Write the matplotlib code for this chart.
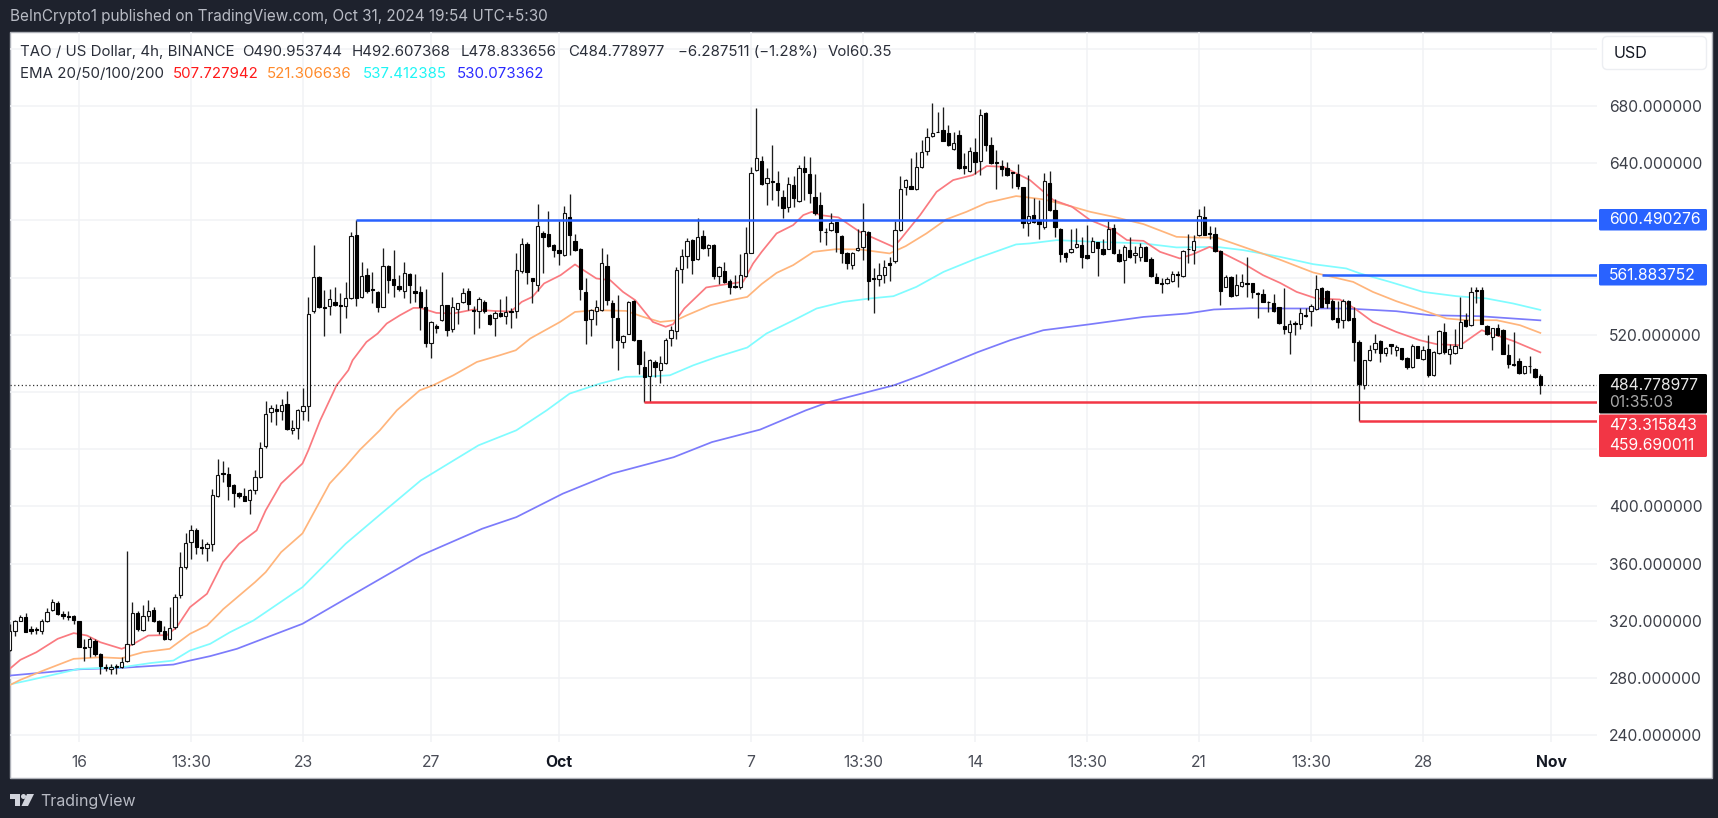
import numpy as np
import matplotlib
matplotlib.use("Agg")
import matplotlib.pyplot as plt
from matplotlib.patches import Rectangle, FancyBboxPatch, Polygon, Circle

plt.rcParams['font.family'] = ['Inter', 'DejaVu Sans']

# ---- candle data (4h bars, bar 0 = 16 Sep) ----
first_bar = -13
opens = [299.7,312.8,320.2,323.0,314.4,314.1,312.8,319.7,327.7,332.3,
 325.1,323.5,323.2,319.7,302.0,302.0,306.2,296.9,288.0,286.6,
 288.5,287.5,291.7,303.9,325.8,313.7,323.7,327.7,320.2,313.2,
 307.1,315.5,337.9,357.5,374.8,383.2,371.5,371.1,373.9,407.0,
 423.6,422.4,414.7,409.3,407.5,404.2,411.2,420.5,442.0,465.8,
 468.4,466.7,471.9,453.2,454.6,466.7,470.0,536.5,560.5,539.5,
 540.0,543.0,540.5,540.0,545.4,589.5,546.5,561.5,551.9,550.0,
 539.5,568.0,558.9,554.2,550.7,562.4,550.7,549.6,539.1,514.3,
 526.2,530.2,540.5,524.1,537.7,543.0,550.7,537.2,536.7,543.0,
 533.5,531.6,535.3,533.0,536.7,536.3,564.3,583.2,559.6,554.5,
 590.9,590.4,582.7,579.2,575.9,602.5,585.7,579.9,550.0,530.7,
 536.7,537.2,568.2,541.9,531.4,515.0,520.9,543.5,516.2,497.5,
 491.0,501.0,495.7,500.3,517.6,522.7,565.7,575.0,586.2,572.7,
 589.0,580.6,582.5,561.0,564.7,557.7,554.0,553.1,561.0,577.3,
 635.2,641.5,626.1,627.3,625.9,616.1,609.5,624.7,613.5,636.6,
 632.4,616.5,610.7,592.0,593.2,598.6,589.2,577.3,568.5,579.2,
 581.5,591.8,559.6,559.1,561.7,569.9,571.3,593.2,623.1,624.0,
 621.7,637.1,648.7,659.0,662.0,663.2,660.9,650.1,659.7,638.0,
 634.7,648.0,641.7,675.3,652.9,640.6,638.0,636.8,633.8,632.4,
 623.1,598.3,603.7,599.3,595.1,626.3,607.2,594.1,577.3,578.0,
 581.1,582.7,575.5,578.0,584.8,580.1,580.1,594.6,576.4,572.2,
 579.2,575.5,574.1,581.5,572.7,560.1,556.3,555.9,557.3,562.4,
 561.0,580.1,579.2,589.5,602.5,590.9,590.4,578.7,553.5,560.5,
 547.5,554.0,555.9,555.9,548.9,548.4,543.0,542.3,539.1,526.5,
 522.0,528.3,527.4,533.5,536.7,537.7,552.4,550.5,543.7,531.4,
 530.2,543.5,531.4,515.0,484.7,502.2,510.4,515.7,507.3,513.6,
 509.7,510.6,504.1,497.5,512.0,503.4,510.4,491.7,507.3,522.0,
 506.4,507.3,511.1,530.2,526.7,551.2,551.2,526.0,518.5,525.1,
 523.7,505.7,499.4,501.7,493.3,498.0,496.1,491.0]
highs = [317.9,320.7,324.4,325.3,316.7,316.0,321.4,329.1,335.4,333.7,
 326.7,326.7,324.4,320.2,307.4,308.5,307.1,297.3,289.9,289.9,
 289.9,294.5,368.7,333.0,327.2,330.7,334.2,329.5,320.7,316.7,
 329.5,338.4,368.0,381.3,386.7,385.1,377.4,375.0,412.4,433.4,
 431.7,427.5,415.9,410.0,413.1,412.4,425.2,445.0,473.5,470.7,
 471.9,475.4,480.7,460.2,468.4,483.1,546.5,582.7,561.0,551.2,
 551.7,553.1,549.3,557.0,592.0,600.2,571.0,566.4,564.0,550.7,
 580.8,568.7,579.2,561.7,570.6,562.9,562.4,554.0,551.7,529.7,
 527.4,564.0,540.7,546.5,542.3,552.4,552.4,540.0,546.1,544.2,
 534.2,536.5,544.7,547.0,538.4,576.9,587.4,585.0,559.6,611.4,
 592.7,606.5,583.4,599.7,610.0,618.4,590.2,580.4,559.4,537.7,
 544.2,580.4,576.4,544.2,547.7,519.7,543.5,544.2,516.7,508.7,
 503.4,502.7,505.0,518.1,526.5,567.1,579.7,587.4,586.7,601.4,
 593.2,583.4,583.2,568.0,570.8,558.7,561.7,576.4,595.1,637.5,
 678.6,645.0,636.4,652.7,634.7,621.2,630.5,631.0,638.7,645.0,
 644.1,632.4,620.0,594.4,604.9,599.0,589.7,578.0,578.0,593.7,
 612.3,592.7,566.8,569.9,572.2,574.5,599.7,631.0,628.7,643.4,
 648.0,656.2,664.4,682.3,676.0,679.1,666.7,662.0,663.2,646.9,
 651.5,657.4,677.7,675.8,658.5,649.2,642.2,641.0,634.0,639.4,
 623.5,631.7,615.4,614.2,633.3,634.5,614.7,594.4,578.0,593.7,
 594.6,588.1,596.5,588.5,585.0,586.7,599.3,597.4,580.1,582.5,
 588.5,582.0,583.9,582.0,574.1,562.9,559.4,560.1,564.7,564.7,
 579.2,590.4,589.5,607.7,610.0,596.0,595.1,579.2,561.5,561.0,
 562.4,562.4,574.1,556.3,550.0,551.7,543.7,548.4,539.5,552.6,
 530.2,529.7,538.4,538.8,541.4,561.7,553.5,551.2,544.7,543.7,
 544.7,544.2,539.5,516.2,502.7,512.7,520.4,516.2,511.5,513.9,
 512.7,511.1,504.5,513.4,512.5,512.5,519.7,508.7,523.7,528.3,
 513.4,524.4,546.1,535.2,553.5,553.5,553.5,526.7,525.1,527.9,
 524.4,513.9,522.0,504.1,498.5,505.0,496.8,492.6]
lows = [299.0,309.7,320.2,312.5,310.9,310.9,310.9,319.0,327.2,324.4,
 321.2,320.7,317.9,301.5,292.2,294.5,295.7,282.9,284.7,282.9,
 282.9,287.1,291.0,303.4,313.2,312.8,320.2,319.0,310.9,306.7,
 306.7,314.4,336.1,356.4,363.4,366.4,366.9,361.5,368.5,406.5,
 417.0,404.7,399.5,406.1,403.7,394.4,408.4,420.1,441.1,459.0,
 456.7,460.2,453.7,450.9,447.4,460.2,459.7,535.3,538.4,519.0,
 533.7,540.0,521.3,531.8,544.7,540.0,545.4,548.9,541.9,536.0,
 539.1,548.9,546.5,550.7,545.4,542.3,543.0,523.2,511.5,503.6,
 521.3,529.7,519.0,521.8,527.4,541.9,537.2,520.9,525.1,535.3,
 526.7,519.0,532.5,527.4,525.1,531.4,563.3,555.4,541.9,550.7,
 562.9,581.5,574.1,568.7,575.4,575.7,578.7,544.2,513.9,519.0,
 526.7,536.7,540.5,511.1,495.7,511.1,520.4,515.7,492.9,473.1,
 473.1,490.6,486.3,499.9,512.5,517.1,555.9,566.4,562.2,572.2,
 579.7,575.0,558.7,555.4,556.3,548.2,552.4,551.7,560.5,576.9,
 634.7,624.7,610.7,614.2,610.0,601.4,605.6,609.1,613.0,614.2,
 611.9,603.7,584.6,582.7,592.7,578.0,569.9,565.9,565.7,578.7,
 572.2,544.2,535.3,554.0,555.9,557.5,570.3,592.7,617.7,621.7,
 621.2,636.6,645.7,658.5,661.6,655.3,652.2,649.2,636.1,632.2,
 634.0,632.4,631.7,648.7,639.4,621.9,631.0,631.0,622.4,621.7,
 594.4,589.0,597.9,587.1,593.7,606.7,588.5,571.0,571.0,577.3,
 580.4,566.4,573.1,577.6,561.0,575.7,579.7,576.4,571.0,555.9,
 573.4,569.9,571.7,571.3,560.5,555.9,548.9,555.4,556.8,553.5,
 560.1,569.9,569.4,589.0,589.5,586.7,577.8,540.7,553.1,546.5,
 547.0,553.5,546.5,545.4,531.4,542.6,536.0,535.8,527.4,520.9,
 506.4,519.7,524.4,532.1,526.0,537.2,539.1,538.4,530.2,525.1,
 525.1,529.7,501.7,459.7,482.4,501.7,507.3,501.0,505.0,506.9,
 505.0,502.7,496.4,497.1,503.6,502.7,490.6,491.2,506.9,506.9,
 499.9,506.4,510.6,525.5,526.0,541.9,527.4,519.9,509.7,519.2,
 506.4,497.1,498.5,492.9,492.9,493.3,490.1,478.8]
closes = [312.8,320.2,323.0,312.5,313.2,313.7,319.7,326.3,332.8,324.9,
 323.2,323.0,320.7,301.5,301.3,307.1,296.9,288.5,287.1,288.0,
 288.0,291.0,303.9,325.3,314.1,323.5,327.2,320.2,313.2,307.4,
 315.1,336.5,357.5,374.3,383.2,371.5,371.1,373.4,407.9,421.7,
 422.9,414.0,409.3,407.5,403.7,411.7,420.5,440.6,464.9,468.8,
 466.7,471.2,454.1,454.6,467.2,470.0,534.2,560.5,539.1,538.8,
 544.7,540.7,540.0,545.8,589.0,545.8,561.0,550.3,551.2,539.1,
 568.0,558.2,554.9,551.7,562.9,554.9,548.9,539.1,514.3,528.8,
 525.1,540.9,523.2,539.5,541.9,548.9,541.2,536.7,544.9,536.5,
 527.9,535.3,533.0,535.8,535.8,565.2,583.4,564.0,557.5,596.0,
 588.5,582.0,579.2,577.3,604.9,589.5,579.2,552.1,530.2,537.2,
 539.1,569.9,544.2,532.1,516.2,519.0,543.0,516.2,499.4,490.6,
 502.7,497.5,500.3,516.7,523.7,565.2,575.0,585.7,572.2,588.1,
 580.4,582.5,561.0,567.1,557.0,553.5,553.1,561.7,576.9,633.3,
 643.6,625.2,629.6,626.8,621.2,608.8,625.4,615.8,636.8,633.8,
 619.3,605.3,593.2,591.6,597.9,591.8,576.9,569.9,577.3,580.6,
 592.5,557.7,559.1,561.9,567.1,568.7,593.2,621.7,628.2,622.1,
 637.5,647.8,658.5,660.9,661.8,655.7,652.7,654.3,636.6,636.4,
 648.3,641.0,673.5,652.9,639.9,640.1,635.7,631.9,633.3,624.0,
 597.9,603.0,599.0,597.4,627.7,607.2,595.5,576.4,574.5,579.7,
 583.4,574.5,573.6,585.7,580.6,576.4,593.7,576.9,571.7,581.1,
 574.1,576.9,581.1,571.7,561.0,556.3,555.2,558.7,562.4,561.5,
 578.3,579.7,585.3,603.0,589.9,590.4,578.3,550.7,560.5,547.0,
 554.7,556.8,555.4,550.0,548.4,543.0,542.6,536.7,528.3,524.4,
 527.9,527.9,534.9,532.8,540.0,551.7,539.5,542.3,530.7,529.0,
 543.7,530.2,515.0,485.9,502.2,509.7,514.3,507.3,511.1,512.0,
 511.5,503.4,497.5,512.5,504.1,509.2,491.7,508.0,522.5,508.0,
 510.4,512.0,529.0,526.0,550.0,550.7,527.9,520.4,524.6,519.7,
 506.9,499.4,498.9,493.3,498.0,498.5,490.5,484.8]

# ---- EMA lines (bar number, price) ----
ema20_bars = [-13,-11,-8,-4,-1,1.5,4,8,10,13,16.5,18.3,20.8,24,27,30,33.3,35,37.9,41.9,43,45.2,48.3,50.5,51.3,53.9,56,57.7,60.2,62.7,64,67,70.2,74,77.8,81,83,85,87.2,90.3,93,94.6,97,99.6,102,104.3,107.6,110,111.4,113.5,117.6,121.4,124.5,126.4,128,130.8,133.9,135.8,137.4,139,142.4,146.4,152.7,153.9,157.7,160.8,163.9,167.6,170.2,173.3,178.3,182.7,186.2,189.6,193.4,196.5,199.6,202.7,206.4,208.9,212,215.2,218.3,222,225.2,228.3,232,236.4,239.2,242.6,247,251.4,254.6,259,263,268.9,274]
ema20 = [286.4,292.7,298.0,307.4,311.4,309.7,305.0,300.4,303.4,309.7,310.0,315.5,329.5,338.9,361.0,373.9,383.2,397.2,416.0,430.0,439.2,460.0,484.7,495.2,502.2,515.0,520.9,527.9,533.7,538.8,538.8,535.3,534.9,537.7,536.7,536.3,543.0,546.5,555.9,561.7,569.2,565.2,559.4,558.2,550.0,544.2,529.0,525.6,527.4,538.4,553.1,555.4,557.0,569.9,578.0,590.9,596.7,603.7,606.0,603.7,602.1,592.0,581.5,586.2,603.7,620.0,628.2,631.7,638.0,637.5,628.2,614.2,609.5,600.2,594.4,586.2,585.7,578.0,573.4,576.4,581.5,575.7,569.9,561.7,556.3,550.0,545.4,544.7,538.4,529.0,522.0,516.2,513.4,512.7,523.2,515.7,507.7]
ema50_bars = [-13,-11,-6.7,-1,4,8,12,17,20.8,24,26.5,27,33,35,37.9,41.9,47,50,52.7,56.4,59.6,63.9,66.4,70.2,74.6,78.9,81.9,84.6,90.2,93,97,102.6,105.8,109,112,114,118.4,122.2,125.3,128,130.8,133.9,137.7,142,146.4,152,155,158.9,162.6,166.4,170.2,175.7,177,180.8,185.2,189.6,194,199.6,205.8,209.6,213.3,218.3,225.2,231.4,238.9,242.6,247,252,256.4,260.2,265.8,270.2,274]
ema50 = [275.0,278.7,285.2,293.4,294.5,293.8,298.0,300.4,310.9,316.7,326.0,328.0,347.0,354.0,368.0,381.1,416.0,428.0,439.7,453.2,467.2,481.2,484.7,491.7,501.0,505.7,509.2,517.4,529.0,536.0,537.2,536.7,532.5,529.0,530.2,533.7,540.7,544.2,546.5,555.5,563.3,568.7,578.0,579.9,579.7,576.9,582.0,590.9,600.7,606.0,612.3,617.0,616.5,614.7,610.7,606.0,602.5,597.4,588.5,588.0,588.0,581.5,572.5,563.6,557.0,550.0,543.5,537.2,531.4,530.2,530.2,526.7,521.3]
ema100_bars = [-13,-9,0,8,13.3,17.7,20.8,24.6,28.3,32.7,35,41.9,50,57,64.1,74.9,82,87.7,92,97.7,102.6,107.6,110.8,115.2,119.6,125.3,128.9,134,138.3,143.3,148.3,152.7,157,162.1,168.3,175.7,178.3,183.3,190.8,199.6,205.8,213.3,218.3,225.2,231.4,237.6,240.2,245.8,252,258.3,263.9,268.9,274]
ema100 = [275.5,278.7,286.4,287.5,290.4,292.2,299.2,303.9,312.0,320.2,326.0,343.5,373.9,396.0,418.2,442.7,453.2,467.2,478.9,485.9,490.6,491.0,491.7,498.7,504.5,511.1,520.9,530.2,538.4,543.0,545.4,547.0,553.5,564.0,573.4,583.2,583.9,586.2,585.0,583.9,581.1,581.5,579.2,574.5,569.4,566.4,562.9,557.0,550.0,547.0,545.4,541.9,537.4]
ema200_bars = [-13,-6,0,8,17.7,20.8,24.6,29.6,35,41.9,50,64.1,75.6,82,90.7,100,111.5,118.7,127.7,136.3,140.6,152.8,157.9,168.6,174.6,180.8,189.6,199.6,207.8,212.8,219.7,225.2,237.6,247,253.3,262.6,274]
ema200 = [281.7,284.0,286.1,287.1,289.4,292.2,295.3,300.4,308.1,317.9,335.4,365.7,384.4,392.5,408.9,423.0,434.4,445.0,453.7,467.2,473.0,484.7,491.7,508.0,516.2,523.2,527.4,532.5,534.9,537.7,538.6,538.4,538.4,536.5,533.7,533.0,530.1]

# ---- horizontal levels ----
resistance_levels = [600.490276, 561.883752]
resistance_starts = [52, 233]
support_levels = [473.315843, 459.690011]
support_starts = [106, 240]
last_price = 484.778977

# ---- axis labels ----
time_ticks = [0, 21, 42, 66, 90, 126, 147, 168, 189, 210, 231, 252, 276]
time_labels = ['16', '13:30', '23', '27', 'Oct', '7', '13:30', '14', '13:30', '21', '13:30', '28', 'Nov']
bold_labels = ['Oct', 'Nov']
price_ticks = [240, 280, 320, 360, 400, 440, 480, 520, 560, 600, 640, 680, 720]
hidden_price_ticks = [440, 480, 560, 600, 720]

DARK = '#1e222d'
W, H = 1718, 818
fig = plt.figure(figsize=(W / 100, H / 100), dpi=100, facecolor=DARK)

# overlay in pixel coordinates for the surrounding chrome
bg = fig.add_axes([0, 0, 1, 1], zorder=0)
bg.set_xlim(0, W); bg.set_ylim(H, 0); bg.axis('off')
bg.add_patch(Rectangle((10, 32), 1701.5, 745.5, fc='white', ec='#aeb1b8', lw=1))

# main chart area
L_, R_, T_, B_ = 10, 1597, 32, 742
ax = fig.add_axes([L_ / W, 1 - B_ / H, (R_ - L_) / W, (B_ - T_) / H], zorder=1)
ax.patch.set_alpha(0)
px_bar = 16 / 3
px_usd = 1.43
ax.set_xlim((L_ - 79) / px_bar, (R_ - 79) / px_bar)
ax.set_ylim(680 - (B_ - 106) / px_usd, 680 + (106 - T_) / px_usd)
for s in ax.spines.values():
    s.set_visible(False)
ax.set_axisbelow(True)
ax.grid(True, color='#f1f2f5', lw=1.1)
ax.yaxis.tick_right()
ax.set_yticks(price_ticks)
ax.set_yticklabels(['' if v in hidden_price_ticks else f'{v:.6f}' for v in price_ticks])
ax.set_xticks(time_ticks)
ax.set_xticklabels(time_labels)
ax.tick_params(length=0)
ax.tick_params(axis='y', pad=8.6, labelsize=11.3, labelcolor='#3d4049')
ax.tick_params(axis='x', pad=9.2, labelsize=11.3, labelcolor='#4a4d57')
for t in ax.get_xticklabels():
    if t.get_text() in bold_labels:
        t.set_fontweight('bold')
        t.set_color('#131722')

bars = np.arange(first_bar, first_bar + len(opens))
o, h, l, c = map(np.array, (opens, highs, lows, closes))

# EMAs
ax.plot(ema200_bars, ema200, color='#7c7bfb', lw=1.25, zorder=2)
ax.plot(ema100_bars, ema100, color='#80fcff', lw=1.25, zorder=2.1)
ax.plot(ema50_bars, ema50, color='#ffb57c', lw=1.25, zorder=2.2)
ax.plot(ema20_bars, ema20, color='#fa7a80', lw=1.25, zorder=2.3)

# candles
ax.vlines(bars, l, h, color='#1c1c1c', lw=0.95, zorder=3)
up = c >= o
ax.bar(bars[up], (c - o)[up], bottom=o[up], width=0.68, fc='white', ec='#111111', lw=0.8, zorder=4)
ax.bar(bars[~up], (o - c)[~up], bottom=c[~up], width=0.68, fc='black', ec='black', lw=0.8, zorder=4)

# last price and levels
xmax = ax.get_xlim()[1]
ax.plot([ax.get_xlim()[0], xmax], [last_price, last_price], color='#333333', lw=0.9, ls=(0, (1, 2)), zorder=3.5)
ax.hlines(resistance_levels, resistance_starts, xmax, color='#2962ff', lw=1.8, zorder=5)
ax.hlines(support_levels, support_starts, xmax, color='#f23645', lw=1.8, zorder=5)

# chrome on top
ov = fig.add_axes([0, 0, 1, 1], zorder=2)
ov.set_xlim(0, W); ov.set_ylim(H, 0); ov.axis('off'); ov.patch.set_alpha(0)

ov.text(10, 17, 'BeInCrypto1 published on TradingView.com, Oct 31, 2024 19:54 UTC+5:30',
        color='#b8bbc4', fontsize=11, va='center', ha='left')
TXT = '#2a2e39'
for x, s in [(20, 'TAO / US Dollar, 4h, BINANCE'), (242, 'O490.953744'), (352, 'H492.607368'),
             (461, 'L478.833656'), (568, 'C484.778977'), (678, '\u22126.287511 (\u22121.28%)'), (828, 'Vol60.35')]:
    ov.text(x, 52, s, color=TXT, fontsize=10.8, va='center', ha='left')
ov.text(20, 73.5, 'EMA 20/50/100/200', color=TXT, fontsize=10.8, va='center', ha='left')
for x, s, col in [(173, '507.727942', '#ff1a1a'), (266.5, '521.306636', '#ff8a2a'),
                  (363, '537.412385', '#1ef5f5'), (456.5, '530.073362', '#2a2aff')]:
    ov.text(x, 73.5, s, color=col, fontsize=10.8, va='center', ha='left')

# USD button
ov.add_patch(FancyBboxPatch((1605, 39), 99, 28, boxstyle='round,pad=2.5,rounding_size=5',
                            fc='white', ec='#eceef2', lw=1))
ov.text(1614, 53, 'USD', color='#131722', fontsize=11.6, va='center', ha='left')

# price labels
ov.add_patch(FancyBboxPatch((1599, 209), 108, 21.5, boxstyle='round,pad=0,rounding_size=1.5', fc='#2962ff', ec='none'))
ov.add_patch(FancyBboxPatch((1599, 264), 108, 21.5, boxstyle='round,pad=0,rounding_size=1.5', fc='#2962ff', ec='none'))
ov.add_patch(FancyBboxPatch((1599, 374), 108, 39.5, boxstyle='round,pad=0,rounding_size=1.5', fc='black', ec='none'))
ov.add_patch(FancyBboxPatch((1599, 414.5), 108, 42.5, boxstyle='round,pad=0,rounding_size=1.5', fc='#f23645', ec='none'))
for y, s, col in [(220, '600.490276', 'white'), (275, '561.883752', 'white'),
                  (385, '484.778977', '#e8e8e8'), (402.7, '01:35:03', '#a8a8a8'),
                  (425, '473.315843', 'white'), (446, '459.690011', 'white')]:
    ov.text(1609, y, s, color=col, fontsize=11.3, va='center', ha='left')

# footer logo
LOGO = '#d1d4dc'
ov.add_patch(Polygon([(10, 794), (20, 794), (20, 806), (15, 806), (15, 799), (10, 799)], fc=LOGO, ec='none'))
ov.add_patch(Circle((23.5, 796.5), 2.5, fc=LOGO, ec='none'))
ov.add_patch(Polygon([(27, 794), (34, 794), (28, 806), (21.5, 806)], fc=LOGO, ec='none'))
ov.text(40, 801.5, 'TradingView', color='#b8bbc4', fontsize=11.5, va='center', ha='left')

fig.savefig('out.png', dpi=100, facecolor=DARK)
